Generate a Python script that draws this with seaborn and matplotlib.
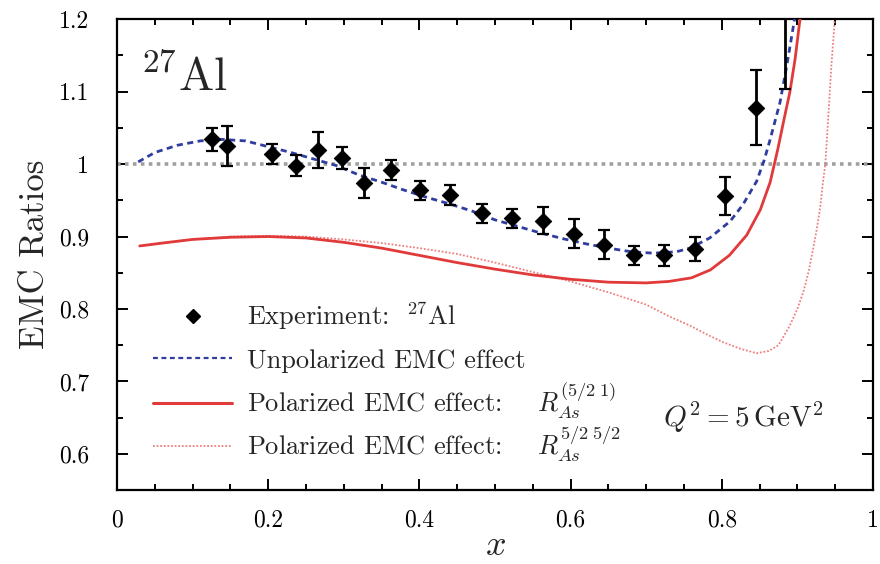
import matplotlib
matplotlib.use("Agg")
import numpy as np
import pandas as pd
import seaborn as sns
import matplotlib.pyplot as plt
from matplotlib.ticker import MultipleLocator
from matplotlib.lines import Line2D

# ---------------- data ----------------
exp_x = [0.125, 0.146, 0.205, 0.237, 0.266, 0.297, 0.327, 0.362, 0.401, 0.441,
         0.483, 0.523, 0.563, 0.604, 0.644, 0.684, 0.724, 0.765, 0.804, 0.845, 0.884]
exp_y = [1.034, 1.025, 1.014, 0.998, 1.019, 1.008, 0.974, 0.992, 0.964, 0.957,
         0.932, 0.925, 0.922, 0.904, 0.889, 0.874, 0.874, 0.883, 0.956, 1.078, 1.24]
exp_err = [0.016, 0.028, 0.014, 0.015, 0.025, 0.015, 0.021, 0.014, 0.013, 0.014,
           0.013, 0.013, 0.019, 0.020, 0.020, 0.013, 0.014, 0.017, 0.026, 0.052, 0.136]

unpol_x = [0.028, 0.05, 0.08, 0.11, 0.14, 0.17, 0.20, 0.23, 0.26, 0.29, 0.32, 0.35,
           0.38, 0.41, 0.44, 0.47, 0.50, 0.53, 0.56, 0.59, 0.62, 0.65, 0.68, 0.71,
           0.74, 0.758, 0.784, 0.811, 0.828, 0.846, 0.856, 0.864, 0.877, 0.886, 0.895, 0.897]
unpol_y = [1.003, 1.016, 1.026, 1.032, 1.034, 1.032, 1.024, 1.016, 1.007, 0.998, 0.985, 0.975,
           0.964, 0.954, 0.945, 0.935, 0.923, 0.914, 0.905, 0.897, 0.890, 0.884, 0.879, 0.877,
           0.879, 0.884, 0.898, 0.921, 0.944, 0.976, 1.005, 1.034, 1.085, 1.136, 1.192, 1.205]

pol1_x = [0.03, 0.06, 0.10, 0.15, 0.20, 0.25, 0.30, 0.35, 0.40, 0.45, 0.50, 0.55,
          0.60, 0.65, 0.70, 0.73, 0.76, 0.785, 0.81, 0.833, 0.851, 0.864, 0.874, 0.883,
          0.890, 0.897, 0.903, 0.905]
pol1_y = [0.887, 0.891, 0.896, 0.899, 0.900, 0.898, 0.892, 0.884, 0.874, 0.864, 0.855, 0.847,
          0.841, 0.837, 0.836, 0.838, 0.843, 0.854, 0.874, 0.902, 0.937, 0.975, 1.020, 1.065,
          1.099, 1.145, 1.196, 1.210]

pol2_x = [0.03, 0.10, 0.15, 0.20, 0.25, 0.30, 0.35, 0.40, 0.45, 0.50, 0.55, 0.60,
          0.65, 0.70, 0.73, 0.758, 0.78, 0.802, 0.825, 0.846, 0.862, 0.875, 0.89, 0.900,
          0.908, 0.915, 0.921, 0.926, 0.930, 0.934, 0.937, 0.941, 0.945, 0.949, 0.950]
pol2_y = [0.887, 0.896, 0.900, 0.901, 0.900, 0.896, 0.891, 0.884, 0.876, 0.864, 0.851, 0.838,
          0.823, 0.806, 0.790, 0.777, 0.765, 0.754, 0.745, 0.739, 0.742, 0.750, 0.777, 0.800,
          0.824, 0.852, 0.884, 0.912, 0.939, 0.976, 1.000, 1.067, 1.136, 1.192, 1.210]

x_ticks = [0, 0.2, 0.4, 0.6, 0.8, 1]
x_tick_labels = ["0", "0.2", "0.4", "0.6", "0.8", "1"]
y_ticks = [0.6, 0.7, 0.8, 0.9, 1.0, 1.1, 1.2]
y_tick_labels = ["0.6", "0.7", "0.8", "0.9", "1", "1.1", "1.2"]

labels = ["Experiment:  $^{27}$Al",
          "Unpolarized EMC effect",
          "Polarized EMC effect:    $R_{As}^{(5/2\\;1)}$",
          "Polarized EMC effect:    $R_{As}^{5/2\\;5/2}$"]

# ---------------- style ----------------
sns.set_theme(style="ticks")
plt.rcParams.update({
    "font.family": ["cmr10", "DejaVu Serif"],
    "mathtext.fontset": "cm",
    "axes.formatter.use_mathtext": True,
    "axes.unicode_minus": False,
    "axes.linewidth": 1.6,
    "axes.edgecolor": "black",
})

BLUE = "#2f3d9e"
RED = "#e03a3a"
RED_LIGHT = "#ef8080"

fig = plt.figure(figsize=(8.8, 5.64), dpi=100)
ax = fig.add_axes([0.133, 0.131, 0.859, 0.835])

ax.axhline(1.0, color="#a0a0a0", lw=2.6, ls=(0, (1, 1.2)), zorder=1)

df_u = pd.DataFrame({"x": unpol_x, "y": unpol_y})
df_p1 = pd.DataFrame({"x": pol1_x, "y": pol1_y})
df_p2 = pd.DataFrame({"x": pol2_x, "y": pol2_y})

sns.lineplot(data=df_p2, x="x", y="y", ax=ax, sort=False, color=RED_LIGHT, lw=1.3,
             linestyle=(0, (1, 1)), zorder=2)
sns.lineplot(data=df_p1, x="x", y="y", ax=ax, sort=False, color=RED, lw=2.0, zorder=3)
sns.lineplot(data=df_u, x="x", y="y", ax=ax, sort=False, color=BLUE, lw=2.0,
             linestyle=(0, (2.2, 1.6)), zorder=4)

ax.errorbar(exp_x, exp_y, yerr=exp_err, fmt="none", ecolor="black", elinewidth=2.0,
            capsize=4, capthick=1.6, zorder=5)
sns.scatterplot(x=exp_x, y=exp_y, ax=ax, marker="D", s=70, color="black",
                edgecolor="black", zorder=6)

ax.set_xlim(0, 1)
ax.set_ylim(0.55, 1.2)
ax.set_xticks(x_ticks)
ax.set_xticklabels(x_tick_labels)
ax.set_yticks(y_ticks)
ax.set_yticklabels(y_tick_labels)
ax.xaxis.set_minor_locator(MultipleLocator(0.05))
ax.yaxis.set_minor_locator(MultipleLocator(0.05))
ax.tick_params(which="both", direction="in", top=True, right=True, width=1.4,
               labelsize=17, colors="black")
ax.tick_params(which="major", length=8)
ax.tick_params(which="minor", length=4.5)
ax.tick_params(axis="y", pad=20)
ax.tick_params(axis="x", pad=14)

ax.set_xlabel("$x$", fontsize=26, labelpad=-1)
ax.set_ylabel("EMC Ratios", fontsize=25, labelpad=6)

ax.text(0.030, 0.849, "$^{27}$Al", transform=ax.transAxes, fontsize=34,
        va="baseline", ha="left")
ax.text(0.722, 0.134, "$Q^2 = 5\\,\\mathrm{GeV}^2$", transform=ax.transAxes,
        fontsize=21, va="baseline", ha="left")

handles = [
    Line2D([], [], color="black", marker="D", ls="none", markersize=7),
    Line2D([], [], color=BLUE, lw=1.6, ls=(0, (2.2, 1.6))),
    Line2D([], [], color=RED, lw=2.2),
    Line2D([], [], color=RED_LIGHT, lw=1.3, ls=(0, (1, 1))),
]
leg_kw = dict(loc="upper left", frameon=False, fontsize=19, handlelength=3.0,
              handletextpad=0.55, borderaxespad=0)
leg1 = ax.legend(handles[:2], labels[:2], bbox_to_anchor=(0.034, 0.426),
                 labelspacing=0.65, **leg_kw)
ax.add_artist(leg1)
ax.legend(handles[2:], labels[2:], bbox_to_anchor=(0.034, 0.254),
          labelspacing=0.1, **leg_kw)

fig.savefig("out.png", dpi=100)
